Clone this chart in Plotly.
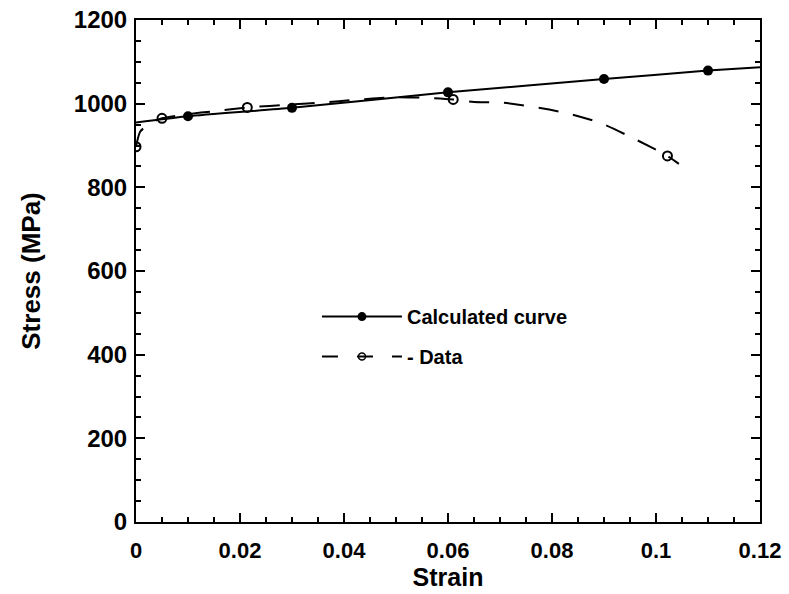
import plotly.graph_objects as go

# Calculated curve (solid line) and its marker points
calc_line_x = [0.0, 0.01, 0.03, 0.06, 0.09, 0.11, 0.12]
calc_line_y = [955, 970, 990, 1027, 1059, 1079, 1087]
calc_pts_x = [0.01, 0.03, 0.06, 0.09, 0.11]
calc_pts_y = [970, 990, 1027, 1059, 1079]

# Experimental data (dashed line) and its marker points
data_line_x = [0.0, 0.0008, 0.0027, 0.005, 0.01, 0.015, 0.0214, 0.03, 0.036, 0.042,
               0.049, 0.056, 0.061, 0.065, 0.07, 0.076, 0.083, 0.0895, 0.096, 0.1022, 0.1044]
data_line_y = [897, 933, 953, 965, 975, 982, 991, 998, 1003, 1009,
               1015, 1014, 1010, 1004, 1003, 993, 977, 953, 915, 875, 856]
data_pts_x = [0.0, 0.005, 0.0214, 0.061, 0.1022]
data_pts_y = [897, 965, 991, 1010, 875]

x_ticks = [0, 0.02, 0.04, 0.06, 0.08, 0.1, 0.12]
y_ticks = [0, 200, 400, 600, 800, 1000, 1200]

FONT = "Liberation Sans, Arial, sans-serif"

fig = go.Figure()
fig.add_trace(go.Scatter(x=calc_line_x, y=calc_line_y, mode="lines",
                         line=dict(color="black", width=2, shape="spline", smoothing=0.6),
                         showlegend=False, hoverinfo="skip"))
fig.add_trace(go.Scatter(x=calc_pts_x, y=calc_pts_y, mode="markers",
                         marker=dict(color="black", size=10, symbol="circle"),
                         showlegend=False))
fig.add_trace(go.Scatter(x=data_line_x, y=data_line_y, mode="lines",
                         line=dict(color="black", width=2, dash="20px,15px",
                                   shape="spline", smoothing=0.6),
                         showlegend=False, hoverinfo="skip"))
fig.add_trace(go.Scatter(x=data_pts_x, y=data_pts_y, mode="markers",
                         marker=dict(color="black", size=9, symbol="circle-open",
                                     line=dict(width=2, color="black")),
                         showlegend=False))
# legend entries
fig.add_trace(go.Scatter(x=[None], y=[None], mode="lines+markers", name="Calculated curve",
                         line=dict(color="black", width=2),
                         marker=dict(color="black", size=9, symbol="circle"),
                         legendgroup="a"))
fig.add_trace(go.Scatter(x=[None], y=[None], mode="lines+markers", name="- Data",
                         line=dict(color="black", width=2, dash="16px,19px"),
                         marker=dict(color="black", size=7, symbol="circle-open",
                                     line=dict(width=1.5, color="black")),
                         legendgroup="b"))
# invisible trace to activate the top x-axis (frame line + ticks)
fig.add_trace(go.Scatter(x=[None], y=[None], xaxis="x2", showlegend=False, hoverinfo="skip"))

axis_common = dict(
    showline=True, linecolor="black", linewidth=2, mirror="ticks",
    ticks="inside", ticklen=9, tickwidth=1.5, tickcolor="black",
    showgrid=False, zeroline=False, automargin=False,
)
fig.update_xaxes(range=[0, 0.12], tickvals=x_ticks, ticktext=[str(v) for v in x_ticks],
                 tickfont=dict(family=FONT, size=22, color="black", weight="bold"),
                 ticklabelstandoff=8,
                 minor=dict(dtick=0.005, ticks="inside", ticklen=5, tickwidth=1.5, tickcolor="black"),
                 title=dict(text="Strain", font=dict(family=FONT, size=25, color="black", weight="bold"),
                            standoff=6),
                 **axis_common)
fig.update_yaxes(range=[0, 1200], tickvals=y_ticks, ticktext=[str(v) for v in y_ticks],
                 tickfont=dict(family=FONT, size=24, color="black", weight="bold"),
                 ticklabelstandoff=2,
                 minor=dict(dtick=50, ticks="inside", ticklen=5, tickwidth=1.5, tickcolor="black"),
                 title=dict(text="Stress (MPa)", font=dict(family=FONT, size=26, color="black", weight="bold"),
                            standoff=26),
                 **axis_common)

fig.update_layout(
    width=789, height=594,
    margin=dict(l=136, r=29, t=20, b=72),
    paper_bgcolor="white", plot_bgcolor="white",
    xaxis2=dict(overlaying="x", side="top", range=[0, 0.12], tickvals=x_ticks,
                showticklabels=False, showline=True, linecolor="black", linewidth=2,
                ticks="inside", ticklen=9, tickwidth=1.5, tickcolor="black",
                minor=dict(dtick=0.005, ticks="inside", ticklen=5, tickwidth=1.5, tickcolor="black"),
                showgrid=False, zeroline=False, automargin=False),
    legend=dict(x=0.29, y=0.448, xanchor="left", yanchor="top",
                bgcolor="rgba(0,0,0,0)", borderwidth=0, itemwidth=80,
                traceorder="grouped", tracegroupgap=11,
                font=dict(family=FONT, size=20, color="black", weight="bold")),
)

fig.write_html("out.html", config={"displayModeBar": False},
               post_script="document.body.style.margin='0';")
